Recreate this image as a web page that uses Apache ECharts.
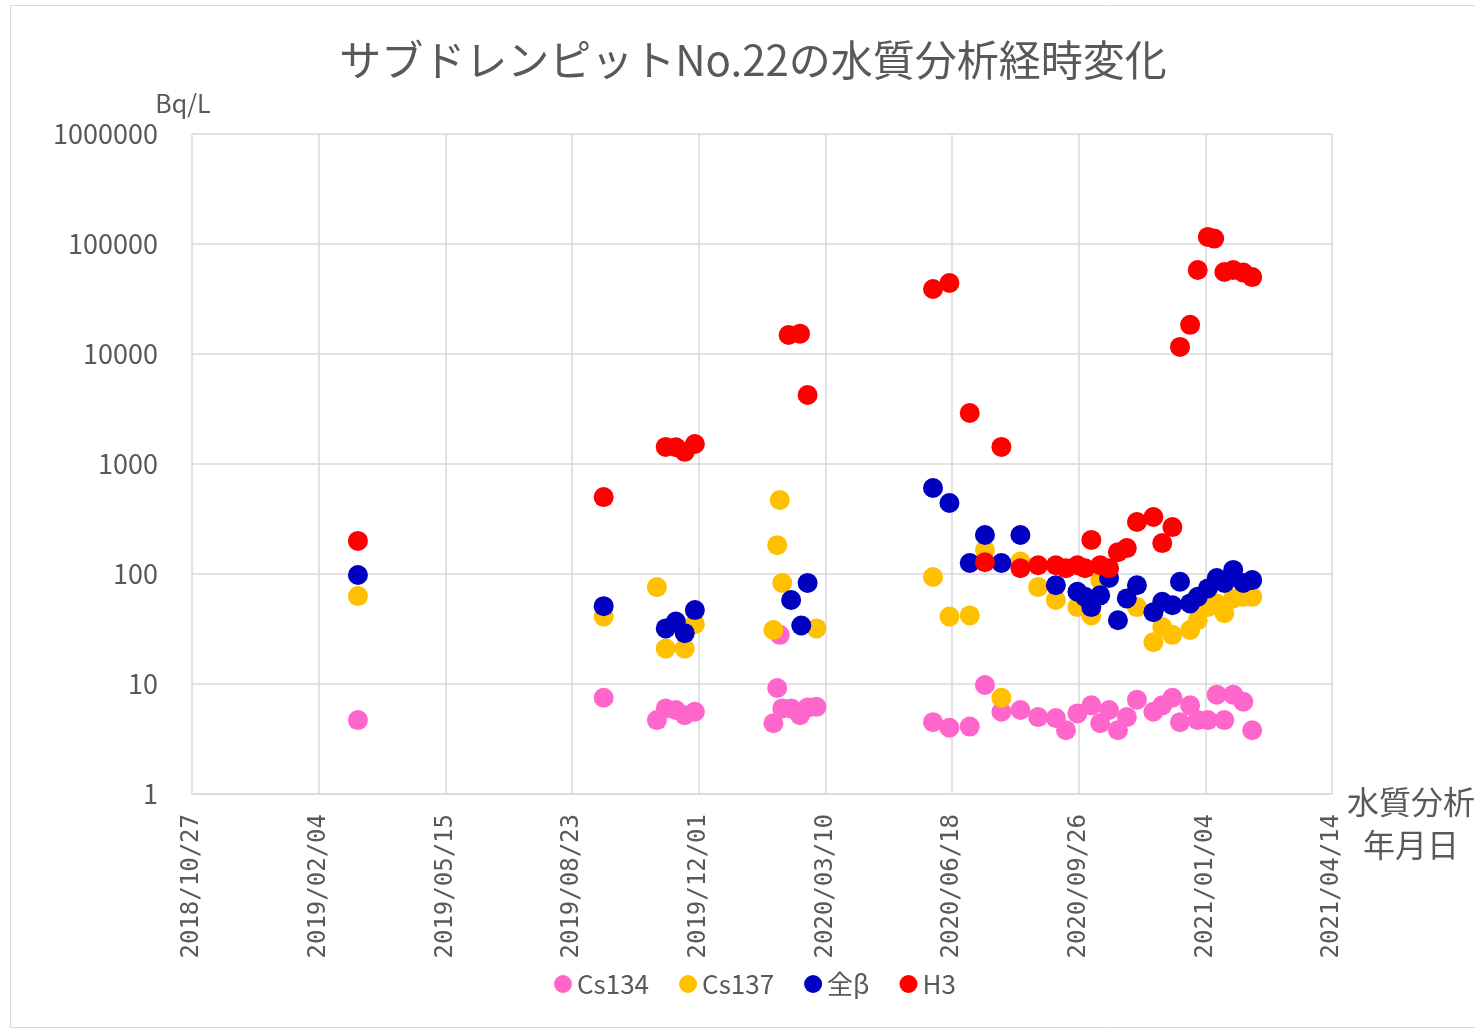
<html lang="ja">
<head>
  <meta charset="UTF-8">
  <title>サブドレンピットNo.22</title>
  <style>
    body { margin: 0; background: #fff; }
    #chart { width: 1475px; height: 1030px; }
  </style>
</head>
<body>
  <div id="chart"></div>
  <script src="https://cdn.jsdelivr.net/npm/echarts@6/dist/echarts.min.js"></script>
  <script>
    // x axis runs in days from the first tick date
    const startDate = '2018-10-27'
    const tickDays = 100
    const tickCount = 9

    const cs134 = [
      ['2019-03-07', 4.7], ['2019-09-17', 7.5],
      ['2019-10-29', 4.7], ['2019-11-05', 6.0], ['2019-11-13', 5.8], ['2019-11-20', 5.2], ['2019-11-28', 5.6],
      ['2020-01-29', 4.4], ['2020-02-01', 9.2], ['2020-02-03', 28], ['2020-02-05', 6.0], ['2020-02-12', 6.0],
      ['2020-02-19', 5.2], ['2020-02-25', 6.1], ['2020-03-03', 6.2],
      ['2020-06-03', 4.5], ['2020-06-16', 4.0], ['2020-07-02', 4.1], ['2020-07-14', 9.8], ['2020-07-27', 5.6],
      ['2020-08-11', 5.8], ['2020-08-25', 5.0], ['2020-09-08', 4.9], ['2020-09-16', 3.8], ['2020-09-25', 5.4],
      ['2020-10-06', 6.4], ['2020-10-13', 4.4], ['2020-10-20', 5.8], ['2020-10-27', 3.8], ['2020-11-03', 5.0],
      ['2020-11-11', 7.2], ['2020-11-24', 5.6], ['2020-12-01', 6.4], ['2020-12-09', 7.5], ['2020-12-15', 4.5],
      ['2020-12-23', 6.4], ['2020-12-29', 4.7], ['2021-01-06', 4.7], ['2021-01-13', 8.0], ['2021-01-19', 4.7],
      ['2021-01-26', 8.0], ['2021-02-03', 6.9], ['2021-02-10', 3.8]
    ]

    const cs137 = [
      ['2019-03-07', 63], ['2019-09-17', 41],
      ['2019-10-29', 76], ['2019-11-05', 21], ['2019-11-20', 21], ['2019-11-28', 35],
      ['2020-01-29', 31], ['2020-02-01', 183], ['2020-02-03', 471], ['2020-02-05', 83], ['2020-03-03', 32],
      ['2020-06-03', 94], ['2020-06-16', 41], ['2020-07-02', 42], ['2020-07-14', 165], ['2020-07-27', 7.5],
      ['2020-08-11', 130], ['2020-08-25', 76], ['2020-09-08', 58], ['2020-09-25', 50], ['2020-10-06', 42],
      ['2020-10-13', 88], ['2020-11-11', 50], ['2020-11-24', 24], ['2020-12-01', 33], ['2020-12-09', 28],
      ['2020-12-23', 31], ['2020-12-29', 38], ['2021-01-06', 50], ['2021-01-13', 54], ['2021-01-19', 44],
      ['2021-01-26', 60], ['2021-02-03', 62], ['2021-02-10', 62]
    ]

    const beta = [
      ['2019-03-07', 98], ['2019-09-17', 51],
      ['2019-11-05', 32], ['2019-11-13', 37], ['2019-11-20', 29], ['2019-11-28', 47],
      ['2020-02-12', 58], ['2020-02-20', 34], ['2020-02-25', 83],
      ['2020-06-03', 605], ['2020-06-16', 442], ['2020-07-02', 126], ['2020-07-14', 226], ['2020-07-27', 126],
      ['2020-08-11', 226], ['2020-09-08', 79], ['2020-09-25', 69], ['2020-10-01', 62], ['2020-10-06', 50],
      ['2020-10-13', 64], ['2020-10-20', 92], ['2020-10-27', 38], ['2020-11-03', 60], ['2020-11-11', 79],
      ['2020-11-24', 45], ['2020-12-01', 56], ['2020-12-09', 52], ['2020-12-15', 85], ['2020-12-23', 54],
      ['2020-12-29', 62], ['2021-01-06', 74], ['2021-01-13', 92], ['2021-01-19', 83], ['2021-01-26', 109],
      ['2021-02-03', 83], ['2021-02-10', 88]
    ]

    const h3 = [
      ['2019-03-07', 200], ['2019-09-17', 500],
      ['2019-11-05', 1430], ['2019-11-13', 1420], ['2019-11-20', 1290], ['2019-11-28', 1520],
      ['2020-02-10', 14900], ['2020-02-19', 15300], ['2020-02-25', 4240],
      ['2020-06-03', 39000], ['2020-06-16', 44200], ['2020-07-02', 2910], ['2020-07-14', 128], ['2020-07-27', 1430],
      ['2020-08-11', 113], ['2020-08-25', 120], ['2020-09-08', 120], ['2020-09-16', 113], ['2020-09-25', 120],
      ['2020-10-01', 113], ['2020-10-06', 204], ['2020-10-13', 120], ['2020-10-20', 113], ['2020-10-27', 158],
      ['2020-11-03', 172], ['2020-11-11', 297], ['2020-11-24', 330], ['2020-12-01', 191], ['2020-12-09', 267],
      ['2020-12-15', 11600], ['2020-12-23', 18400], ['2020-12-29', 58000], ['2021-01-06', 116000],
      ['2021-01-11', 112000], ['2021-01-19', 55600], ['2021-01-26', 58000], ['2021-02-03', 55000],
      ['2021-02-10', 50000]
    ]

    const seriesNames = ['Cs134', 'Cs137', '全β', 'H3']
    const seriesColors = ['#ff66cc', '#ffc000', '#0000c0', '#ff0000']

    const DAY = 86400000
    const t0 = Date.parse(startDate + 'T00:00:00Z')
    const toDay = s => Math.round((Date.parse(s + 'T00:00:00Z') - t0) / DAY)
    const pad = n => (n < 10 ? '0' : '') + n
    const dayLabel = d => {
      const dt = new Date(t0 + d * DAY)
      return dt.getUTCFullYear() + '/' + pad(dt.getUTCMonth() + 1) + '/' + pad(dt.getUTCDate())
    }

    const textColor = '#595959'
    const gridColor = '#d9d9d9'

    const chart = echarts.init(document.getElementById('chart'))
    chart.setOption({
      animation: false,
      title: {
        text: 'サブドレンピットNo.22の水質分析経時変化',
        left: 748,
        top: 34,
        textAlign: 'center',
        textStyle: {
          fontFamily: 'Noto Sans CJK JP',
          fontSize: 42,
          fontWeight: 'normal',
          color: textColor
        }
      },
      graphic: [{
        type: 'rect',
        shape: { x: 10.5, y: 5.5, width: 1470, height: 1022 },
        style: { fill: 'none', stroke: gridColor, lineWidth: 1 },
        silent: true
      }],
      legend: {
        data: seriesNames,
        bottom: 28,
        left: 549,
        icon: 'circle',
        itemWidth: 18,
        itemHeight: 18,
        itemGap: 30,
        textStyle: { fontFamily: 'Noto Sans CJK JP', fontSize: 26, color: textColor }
      },
      grid: { left: 192, top: 134, width: 1140, height: 660, outerBoundsMode: 'none' },
      xAxis: {
        type: 'value',
        min: 0,
        max: tickDays * tickCount,
        interval: tickDays,
        name: '{t|水質分析}\n{b|年月日}',
        nameLocation: 'end',
        nameGap: 75,
        nameTextStyle: {
          fontFamily: 'Noto Sans CJK JP',
          fontSize: 32,
          color: textColor,
          align: 'center',
          verticalAlign: 'top',
          rich: {
            t: { fontFamily: 'Noto Sans CJK JP', fontSize: 32, color: textColor, lineHeight: 16 },
            b: { fontFamily: 'Noto Sans CJK JP', fontSize: 32, color: textColor, lineHeight: 70 }
          }
        },
        axisLine: { show: true, lineStyle: { color: gridColor, width: 1.5 } },
        axisTick: { show: false },
        splitLine: { show: true, lineStyle: { color: gridColor, width: 1.5 } },
        axisLabel: {
          rotate: 90,
          margin: 20,
          fontFamily: 'DejaVu Sans Mono',
          fontSize: 24,
          color: textColor,
          formatter: v => dayLabel(v)
        }
      },
      yAxis: {
        type: 'log',
        logBase: 10,
        min: 1,
        max: 1000000,
        name: 'Bq/L',
        nameLocation: 'end',
        nameGap: 18,
        nameTextStyle: {
          fontFamily: 'Noto Sans CJK JP',
          fontSize: 25,
          color: textColor,
          padding: [0, 18, 0, 0]
        },
        axisLine: { show: false },
        axisTick: { show: false },
        splitLine: { show: true, lineStyle: { color: gridColor, width: 1.5 } },
        axisLabel: {
          margin: 34,
          fontFamily: 'Noto Sans CJK JP',
          fontSize: 27,
          color: textColor,
          formatter: v => String(Math.round(v))
        }
      },
      series: [cs134, cs137, beta, h3].map((list, i) => ({
        name: seriesNames[i],
        type: 'scatter',
        symbolSize: 20,
        itemStyle: { color: seriesColors[i], opacity: 1 },
        data: list.map(p => [toDay(p[0]), p[1]])
      }))
    })
  </script>
</body>
</html>
